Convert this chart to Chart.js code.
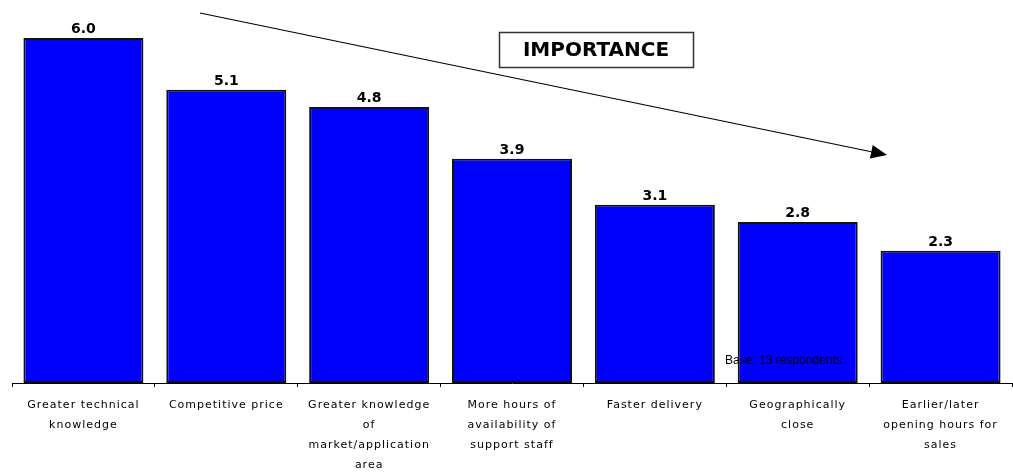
<!DOCTYPE html>
<html>
<head>
<meta charset="utf-8">
<script src="https://cdn.jsdelivr.net/npm/chart.js@4.4.1/dist/chart.umd.min.js"></script>
<style>
  body { margin: 0; background: #fff; }
  canvas { display: block; }
</style>
</head>
<body>
<canvas id="importanceChart" width="1013" height="473"></canvas>
<script>
var categories = [
    ['Greater technical', 'knowledge'],
    ['Competitive price'],
    ['Greater knowledge', 'of', 'market/application', 'area'],
    ['More hours of', 'availability of', 'support staff'],
    ['Faster delivery'],
    ['Geographically', 'close'],
    ['Earlier/later', 'opening hours for', 'sales']
];
var scores = [6.0, 5.1, 4.8, 3.9, 3.1, 2.8, 2.3];
var scoreLabels = ['6.0', '5.1', '4.8', '3.9', '3.1', '2.8', '2.3'];

// wider letter spacing for the category labels
var spacing = {
    id: 'spacing',
    beforeDraw: function(chart) {
        chart.ctx.letterSpacing = '1px';
    }
};

// value on top of each bar
var valueLabels = {
    id: 'valueLabels',
    afterDatasetsDraw: function(chart) {
        var ctx = chart.ctx;
        var meta = chart.getDatasetMeta(0);
        ctx.save();
        ctx.letterSpacing = '0px';
        ctx.font = 'bold 14px "DejaVu Sans"';
        ctx.fillStyle = '#000';
        ctx.textAlign = 'center';
        ctx.textBaseline = 'alphabetic';
        meta.data.forEach(function(bar, i) {
            ctx.fillText(scoreLabels[i], bar.x, bar.y - 5);
        });
        ctx.restore();
    }
};

// importance arrow, title box and base note
var decorations = {
    id: 'decorations',
    afterDraw: function(chart) {
        var ctx = chart.ctx;
        ctx.save();
        ctx.letterSpacing = '0px';

        var x1 = 200, y1 = 13, x2 = 887, y2 = 155;
        var ang = Math.atan2(y2 - y1, x2 - x1);
        var headLen = 16, headW = 7;
        var bx = x2 - headLen * Math.cos(ang), by = y2 - headLen * Math.sin(ang);
        ctx.strokeStyle = '#000';
        ctx.lineWidth = 1.2;
        ctx.beginPath();
        ctx.moveTo(x1, y1);
        ctx.lineTo(bx, by);
        ctx.stroke();
        ctx.fillStyle = '#000';
        ctx.beginPath();
        ctx.moveTo(x2, y2);
        ctx.lineTo(bx + headW * Math.sin(ang), by - headW * Math.cos(ang));
        ctx.lineTo(bx - headW * Math.sin(ang), by + headW * Math.cos(ang));
        ctx.closePath();
        ctx.fill();

        ctx.fillStyle = '#fff';
        ctx.fillRect(499, 32, 194, 35);
        ctx.strokeStyle = '#333';
        ctx.lineWidth = 1.5;
        ctx.strokeRect(499.5, 32.5, 194, 35);
        ctx.fillStyle = '#000';
        ctx.font = 'bold 20px "DejaVu Sans"';
        ctx.textAlign = 'center';
        ctx.textBaseline = 'middle';
        ctx.fillText('IMPORTANCE', 596, 51);

        ctx.font = '12px "Liberation Sans Narrow", "Liberation Sans"';
        ctx.textAlign = 'left';
        ctx.fillText('Base: 13 respondents', 725, 361);
        ctx.restore();
    }
};

var chart = new Chart(document.getElementById('importanceChart'), {
    type: 'bar',
    data: {
        labels: categories,
        datasets: [{
            data: scores,
            backgroundColor: '#0000ff',
            borderColor: '#111',
            borderWidth: 2,
            borderSkipped: false,
            barPercentage: 0.84,
            categoryPercentage: 1
        }]
    },
    options: {
        responsive: false,
        animation: false,
        layout: { padding: { top: 38, left: 12, right: 1, bottom: 0 } },
        plugins: {
            legend: { display: false },
            tooltip: { enabled: false }
        },
        scales: {
            x: {
                afterFit: function(scale) { scale.height = 90; },
                grid: {
                    display: true,
                    drawOnChartArea: false,
                    drawTicks: true,
                    tickLength: 4,
                    color: '#000'
                },
                border: { display: true, color: '#000', width: 1 },
                ticks: {
                    color: '#000',
                    padding: 8,
                    maxRotation: 0,
                    autoSkip: false,
                    font: { family: '"DejaVu Sans"', size: 11, lineHeight: '20px' }
                }
            },
            y: {
                display: false,
                min: 0,
                max: 6
            }
        }
    },
    plugins: [spacing, valueLabels, decorations]
});
</script>
</body>
</html>
